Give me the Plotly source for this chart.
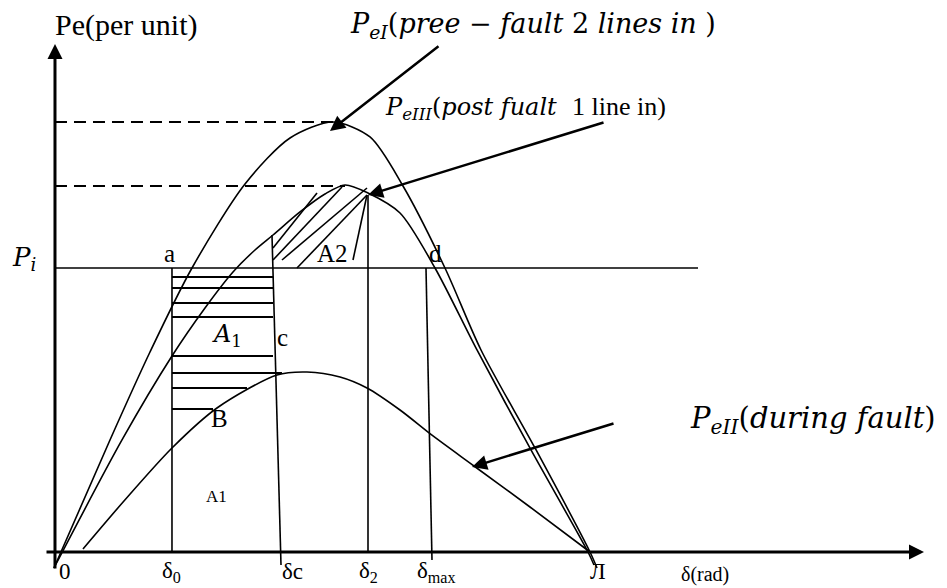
import plotly.graph_objects as go

# ---- data (delta in degrees, Pe in per unit; Pi = 1.0) ----
peI_delta = [-0.34, 18.50, 31.96, 46.09, 63.93, 79.07, 93.53, 105.98, 117.08, 131.21, 143.33, 161.50, 180.0, 182.36]
peI_power = [-0.0563, 0.3944, 0.7042, 1.0, 1.2958, 1.4577, 1.5141, 1.4613, 1.2887, 1.0, 0.7113, 0.3662, 0.0, -0.0563]

peIII_delta = [-0.34, 22.54, 39.36, 50.47, 59.89, 67.29, 73.35, 82.43, 90.84, 97.57, 105.31, 116.08, 127.85, 141.98, 160.15, 179.33, 181.35]
peIII_power = [-0.0563, 0.3944, 0.6901, 0.8592, 0.9859, 1.0634, 1.1162, 1.1972, 1.2606, 1.2923, 1.2641, 1.1937, 1.0, 0.7113, 0.3592, 0.0, -0.0458]

peII_delta = [9.42, 23.5, 39.36, 54.50, 74.69, 84.79, 95.89, 104.97, 116.08, 127.18, 140.97, 159.81, 180.0]
peII_power = [0.0106, 0.1831, 0.3662, 0.5070, 0.6232, 0.6338, 0.6162, 0.5775, 0.5000, 0.4085, 0.3028, 0.1585, 0.0]

p_i = 1.0
pi_line_end = 216.34
pmax_I = 1.5141
pmax_III = 1.2887
dashI_end = 93.53
dashIII_end = 97.57

delta0 = 39.36
deltac_top = [73.01, 1.1162]
deltac_bot = [76.04, -0.0458]
delta2 = 105.31
delta2_top = 1.2570
dmax_top = [124.82, 1.0]
dmax_bot = [126.84, -0.0282]

# A1 hatch (horizontal lines from delta0)
a1_y = [0.9683, 0.9296, 0.8768, 0.8275, 0.6901, 0.6303, 0.5775, 0.5035]
a1_xend = [73.35, 73.35, 73.35, 73.35, 73.35, 76.37, 64.60, 53.16]

# A2 hatch (diagonal lines)
a2_x0 = [73.35, 73.35, 76.37, 81.42, 100.26]
a2_y0 = [1.0704, 1.0282, 1.0282, 1.0, 1.0282]
a2_x1 = [88.15, 96.56, 104.97, 104.97, 104.97]
a2_y1 = [1.2641, 1.2852, 1.2817, 1.2570, 1.2570]

# axes
x_axis = [-3.36, 292.38]
y_axis = [-0.0634, 1.7887]

# pointer arrows: tail (x,y) -> head (x,y)
arrows = [
    (129.53, 1.7852, 92.52, 1.4824),
    (185.05, 1.5141, 105.31, 1.2570),
    (188.41, 0.4542, 140.30, 0.2993),
]

tick_labels = ["0", "δ<sub>0</sub>", "δc", "δ<sub>2</sub>", "δ<sub>max</sub>", "Л"]
tick_pos = [3.36, 39.36, 79.74, 105.31, 128.19, 182.69]

SERIF = "Liberation Serif"
MATH = "DejaVu Serif"
BLK = "black"

fig = go.Figure()

def line(xs, ys, w=1.5, dash=None, shape="linear"):
    fig.add_trace(go.Scatter(x=xs, y=ys, mode="lines", hoverinfo="skip",
                             line=dict(color=BLK, width=w, dash=dash, shape=shape, smoothing=0.8),
                             showlegend=False))

line(peI_delta, peI_power, 1.6, shape="spline")
line(peIII_delta, peIII_power, 1.6, shape="spline")
line(peII_delta, peII_power, 1.6, shape="spline")

line([0, pi_line_end], [p_i, p_i], 1.6)
line([0, dashI_end], [pmax_I, pmax_I], 2, dash="12px,7px")
line([0, dashIII_end], [pmax_III, pmax_III], 2, dash="12px,7px")

line([delta0, delta0], [p_i, 0], 1.6)
line([deltac_top[0], deltac_bot[0]], [deltac_top[1], deltac_bot[1]], 1.6)
line([delta2, delta2], [delta2_top, 0], 1.6)
line([dmax_top[0], dmax_bot[0]], [dmax_top[1], dmax_bot[1]], 1.6)

for y, xe in zip(a1_y, a1_xend):
    line([delta0, xe], [y, y], 2)
for x0, y0, x1, y1 in zip(a2_x0, a2_y0, a2_x1, a2_y1):
    line([x0, x1], [y0, y1], 1.6)

# axes with arrowheads
fig.add_annotation(x=x_axis[1], y=0, ax=x_axis[0], ay=0, axref="x", ayref="y",
                   xref="x", yref="y", text="", showarrow=True, arrowhead=2,
                   arrowwidth=3, arrowsize=1, arrowcolor=BLK, standoff=0)
fig.add_annotation(x=0, y=y_axis[1], ax=0, ay=y_axis[0], axref="x", ayref="y",
                   xref="x", yref="y", text="", showarrow=True, arrowhead=2,
                   arrowwidth=3, arrowsize=1, arrowcolor=BLK, standoff=0)

for tx, ty, hx, hy in arrows:
    fig.add_annotation(x=hx, y=hy, ax=tx, ay=ty, axref="x", ayref="y",
                       xref="x", yref="y", text="", showarrow=True, arrowhead=2,
                       arrowwidth=2.5, arrowsize=1.2, arrowcolor=BLK, standoff=0)

def txt(x, y, s, size, anchor="center", font=SERIF):
    fig.add_annotation(x=x, y=y, xref="x", yref="y", text=s, showarrow=False,
                       xanchor=anchor, yanchor="middle",
                       font=dict(family=font, size=size, color=BLK))

txt(-0.67, 1.8556, "Pe(per unit)", 30, "left")
txt(98.58, 1.8556, "<i>P</i><sub><i>eI</i></sub>(<i>pree</i> − <i>fault</i> 2 <i>lines in</i> )", 27, "left", MATH)
txt(110.36, 1.5634,
    "<i>P</i><sub><i>eIII</i></sub>(<i>post fualt</i>  "
    "<span style='font-family:Liberation Serif;font-size:26px'>1 line in)</span>", 24, "left", MATH)
txt(212.97, 0.4648, "<i>P</i><sub><i>eII</i></sub>(<i>during fault</i>)", 29, "left", MATH)
txt(-15.14, 1.035, "<i>P</i><sub><i>i</i></sub>", 26, "left", MATH)
txt(38.69, 1.0528, "a", 25)
txt(93.53, 1.0528, "A2", 25)
txt(127.85, 1.0528, "d", 25)
txt(57.87, 0.7606, "<i>A</i><sub>1</sub>", 24, "center", MATH)
txt(76.71, 0.757, "c", 25)
txt(55.51, 0.4718, "B", 25)
txt(54.5, 0.1937, "A1", 17)
for s, xp in zip(tick_labels, tick_pos):
    txt(xp, -0.0704, s, 23)
txt(218.69, -0.081, "δ(rad)", 20)

# page has an 8px default body margin: size/range chosen so the 947x588 window maps 1:1
fig.update_layout(
    width=939, height=580, autosize=False,
    margin=dict(l=0, r=0, t=0, b=0),
    paper_bgcolor="white", plot_bgcolor="white",
    xaxis=dict(range=[-15.81, 300.11], visible=False, fixedrange=True),
    yaxis=dict(range=[-0.1268, 1.9155], visible=False, fixedrange=True),
    showlegend=False,
)

fig.write_html("out.html")
